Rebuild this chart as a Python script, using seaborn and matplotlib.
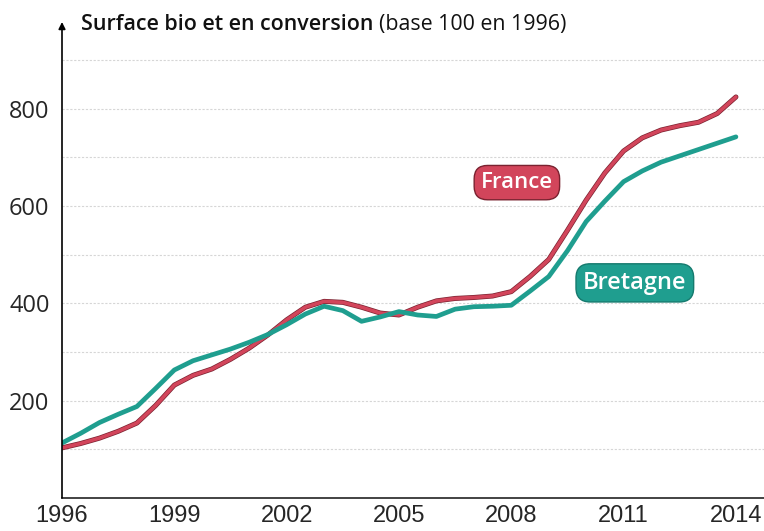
import numpy as np
import pandas as pd
import matplotlib
matplotlib.use('Agg')
import matplotlib.pyplot as plt
import matplotlib.patheffects as pe
import seaborn as sns

# Values (base 100 in 1996), half-year steps
years = [1996, 1996.5, 1997, 1997.5, 1998, 1998.5, 1999, 1999.5, 2000, 2000.5,
         2001, 2001.5, 2002, 2002.5, 2003, 2003.5, 2004, 2004.5, 2005, 2005.5,
         2006, 2006.5, 2007, 2007.5, 2008, 2008.5, 2009, 2009.5, 2010, 2010.5,
         2011, 2011.5, 2012, 2012.5, 2013, 2013.5, 2014]
france = [103, 112, 123, 137, 154, 190, 232, 252, 265, 285,
          308, 335, 366, 392, 404, 402, 392, 380, 376, 392,
          405, 410, 412, 415, 424, 455, 490, 550, 612, 668,
          713, 740, 756, 765, 772, 790, 824]
bretagne = [113, 133, 155, 172, 188, 225, 263, 282, 294, 306,
            320, 336, 356, 378, 394, 385, 363, 372, 383, 376,
            373, 388, 393, 394, 396, 425, 455, 508, 568, 610,
            650, 672, 690, 703, 716, 729, 742]
xticks = [1996, 1999, 2002, 2005, 2008, 2011, 2014]
yticks = [200, 400, 600, 800]

red = '#d2455b'
teal = '#1f9e8f'

df = pd.DataFrame({
    'annee': years * 2,
    'valeur': france + bretagne,
    'zone': ['France'] * len(years) + ['Bretagne'] * len(years),
})

sns.set_style('white')
plt.rcParams['font.family'] = ['Open Sans', 'DejaVu Sans']

fig = plt.figure(figsize=(7.64, 5.31), dpi=100)
ax = fig.add_axes([62 / 764, 1 - 498 / 531, 702 / 764, 476 / 531])

sns.lineplot(data=df, x='annee', y='valeur', hue='zone',
             palette={'France': red, 'Bretagne': teal},
             hue_order=['France', 'Bretagne'], legend=False, ax=ax)
ax.lines[0].set_linewidth(2.6)
ax.lines[0].set_path_effects([pe.Stroke(linewidth=3.6, foreground='#7a2230'), pe.Normal()])
ax.lines[1].set_linewidth(3.4)
for ln in ax.lines:
    ln.set_solid_capstyle('round')
    ln.set_solid_joinstyle('round')

ax.set_xlim(1996, 2014.75)
ax.set_ylim(0, 978)

# gridlines every 100
for v in range(100, 1000, 100):
    ax.axhline(v, color='#d6d6d6', lw=0.8, ls=(0, (2, 1.5)), zorder=0)

ax.set_xticks(xticks)
ax.set_xticklabels([str(x) for x in xticks], family=['Liberation Sans', 'DejaVu Sans'],
                   fontsize=17)
ax.tick_params(axis='x', direction='in', length=14, width=1, color='#222222', pad=5)
ax.set_yticks(yticks)
ax.set_yticklabels([str(y) for y in yticks], fontsize=17)
ax.tick_params(axis='y', length=4, width=0.8, color='#bbbbbb', pad=5)
ax.set_xlabel('')
ax.set_ylabel('')

for s in ['top', 'right', 'left']:
    ax.spines[s].set_visible(False)
ax.spines['bottom'].set_color('#222222')
ax.spines['bottom'].set_linewidth(1.2)

# vertical axis with arrow
ax.annotate('', xy=(0, 1.0), xytext=(0, 0), xycoords='axes fraction',
            arrowprops=dict(arrowstyle='-|>', color='black', lw=1.2,
                            mutation_scale=10, shrinkA=0, shrinkB=0))

# labels on the series
ax.text(2008.15, 648, 'France', color='white', fontsize=16, ha='center', va='center',
        fontweight='semibold',
        bbox=dict(boxstyle='round,pad=0.3,rounding_size=0.6', fc=red, ec='#7a2230', lw=1))
ax.text(2011.3, 442, 'Bretagne', color='white', fontsize=17, ha='center', va='center',
        fontweight='semibold',
        bbox=dict(boxstyle='round,pad=0.3,rounding_size=0.6', fc=teal, ec='#157a6e', lw=1))

# title
t1 = fig.text(81 / 764, 1 - 30 / 531, 'Surface bio et en conversion', fontsize=15.4,
              fontweight='semibold', color='#111111', va='baseline')
fig.canvas.draw()
bb = t1.get_window_extent()
fig.text((bb.x1 + 6) / 764, 1 - 30 / 531, '(base 100 en 1996)', fontsize=15.4,
         color='#111111', va='baseline')

fig.savefig('out.png', dpi=100, facecolor='white')
